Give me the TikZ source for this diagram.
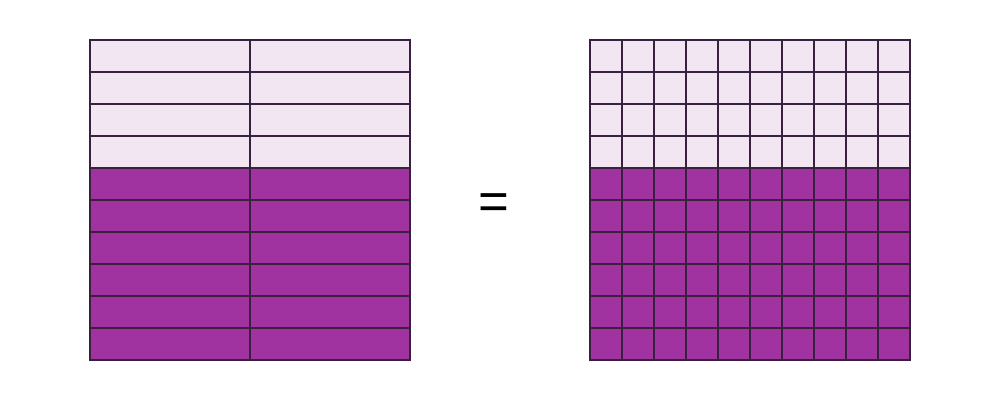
\documentclass[tikz,border=0pt]{standalone}
\usepackage{fontspec}
\setmainfont{Liberation Sans}
\usepackage{xcolor}
\usetikzlibrary{positioning}
\definecolor{lightcell}{HTML}{F2E6F2}
\definecolor{darkcell}{HTML}{A033A0}
\definecolor{gridline}{HTML}{3A2040}

\begin{document}
\begin{tikzpicture}[every node/.style={font=\fontsize{15}{18}\selectfont},
  cell/.style={draw=gridline, line width=0.6pt}]
  \useasboundingbox (0,0) rectangle (10,4);
  % ---- tenths: 2 columns, 10 rows ----
  \begin{scope}[xshift=0.9cm, yshift=0.4cm]
    \foreach \r in {0,...,9}{
      \ifnum\r<6 \def\fillc{darkcell}\else\def\fillc{lightcell}\fi
      \foreach \c in {0,1}
        \draw[cell, fill=\fillc] (\c*1.6,\r*0.32) rectangle ++(1.6,0.32);
    }
  \end{scope}
  \node (eq) at (4.94,1.93) {=};
  % ---- hundredths: 10 columns, 10 rows ----
  \begin{scope}[xshift=5.9cm, yshift=0.4cm]
    \foreach \r in {0,...,9}{
      \ifnum\r<6 \def\fillc{darkcell}\else\def\fillc{lightcell}\fi
      \foreach \c in {0,...,9}
        \draw[cell, fill=\fillc] (\c*0.32,\r*0.32) rectangle ++(0.32,0.32);
    }
  \end{scope}
\end{tikzpicture}
\end{document}
